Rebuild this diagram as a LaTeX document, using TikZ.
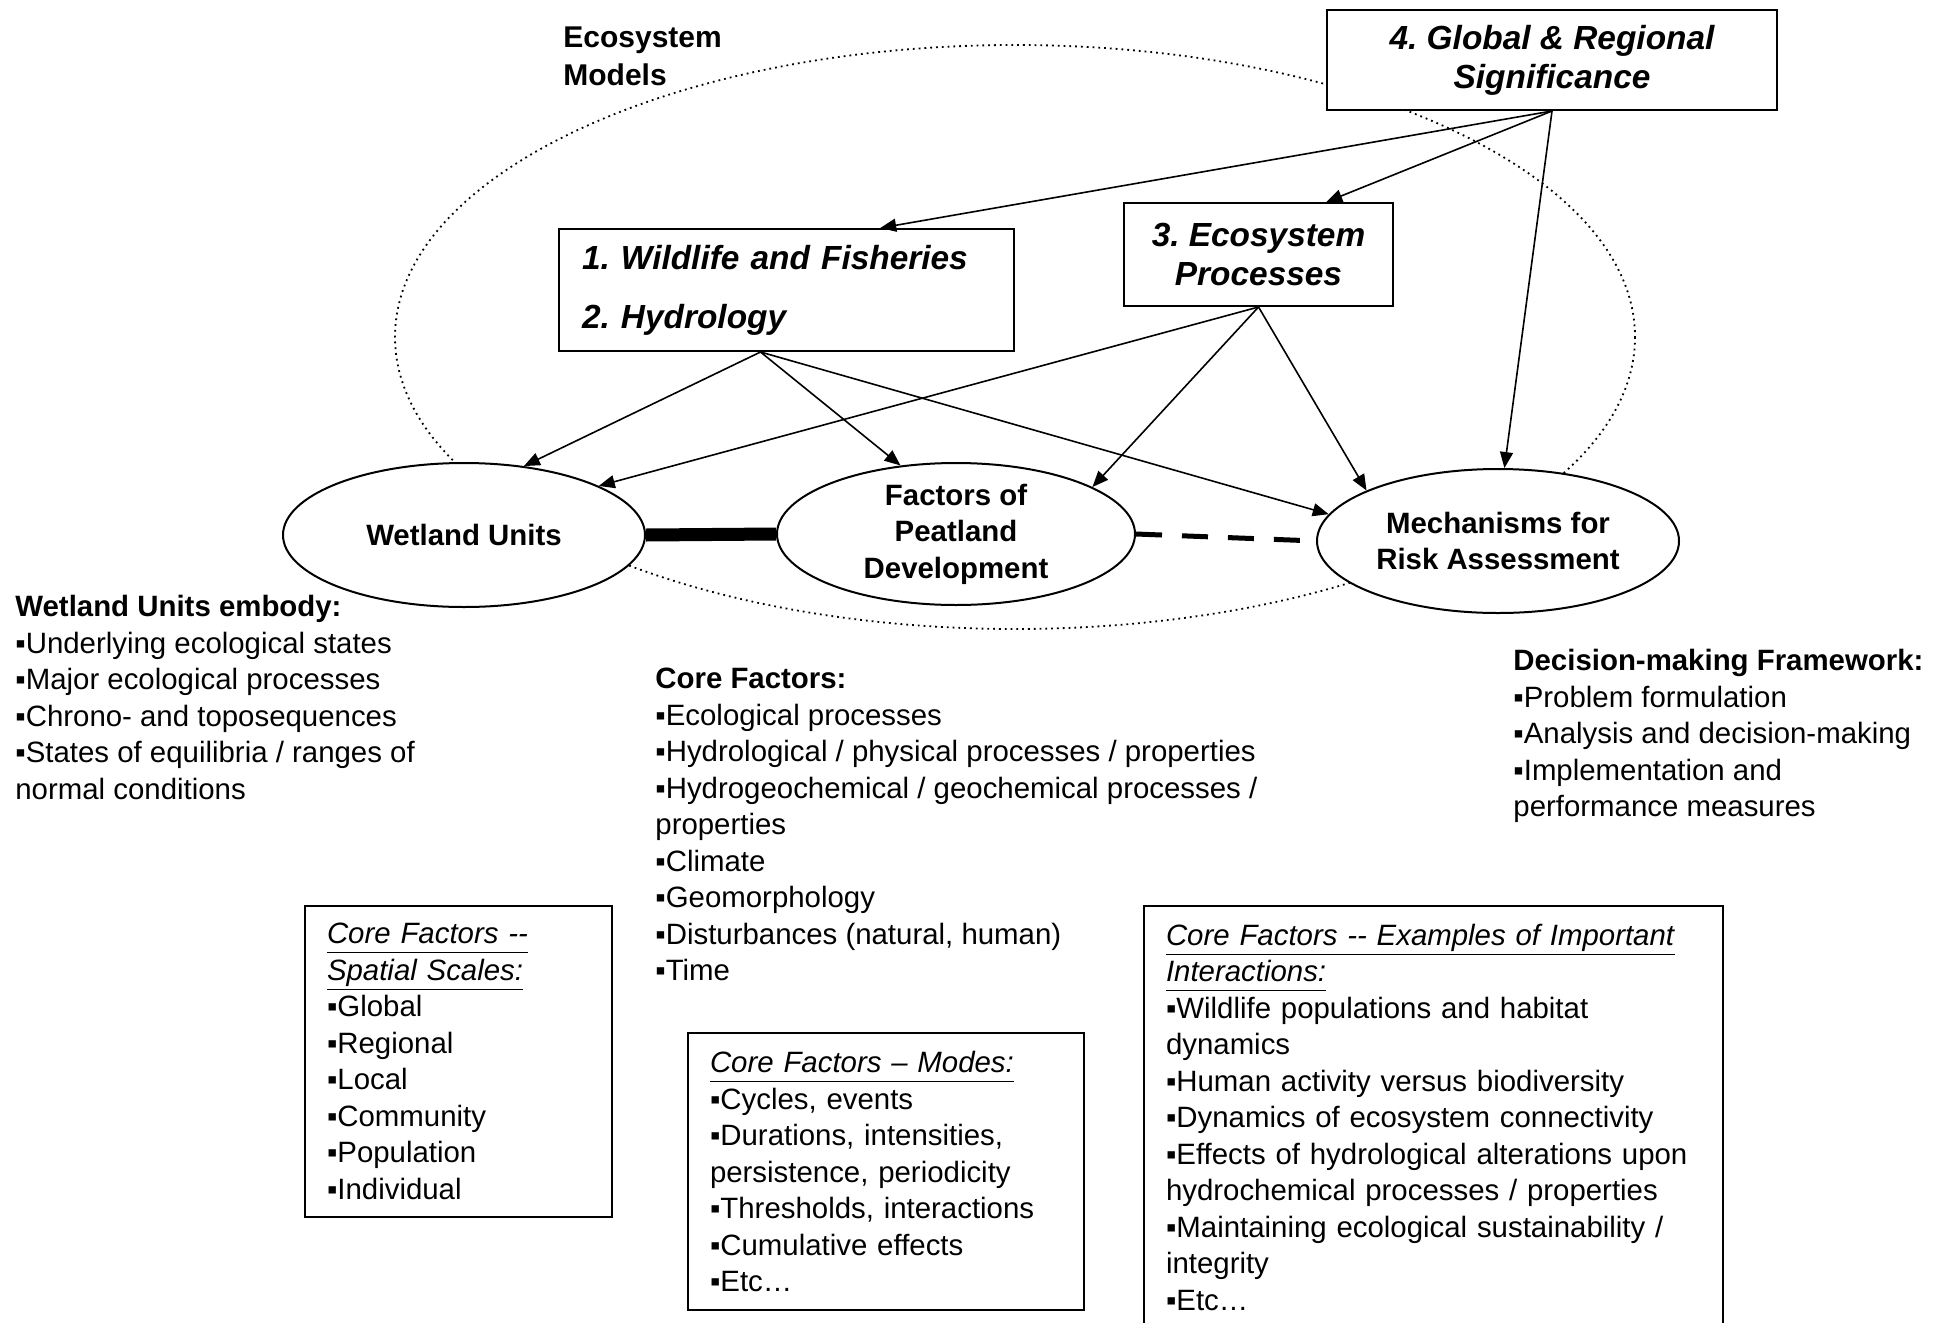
\documentclass[tikz,border=0pt]{standalone}
\usepackage{fontspec}
\setmainfont{Liberation Sans}
\usetikzlibrary{arrows.meta, positioning, shapes.geometric, calc}
\newcommand{\uhead}[1]{\underline{\textit{#1}\vphantom{p}}}
\frenchspacing

\begin{document}
\begin{tikzpicture}[
  x=0.5pt, y=-0.5pt,
  sigbox/.style={rectangle, draw, line width=1pt, fill=white, inner sep=0pt,
               font=\fontsize{16.7}{19.5}\selectfont\bfseries\itshape},
  unit/.style={ellipse, draw, line width=1pt, fill=white, inner sep=0pt, align=center,
               minimum width=181pt, minimum height=72pt, font=\fontsize{14.7}{18.25}\selectfont\bfseries},
  notes/.style={anchor=north west, inner sep=0pt, align=left, font=\fontsize{14.7}{18.25}\selectfont},
  notebox/.style={notes, draw, line width=1pt, inner xsep=11pt},
  arrow/.style={-{Triangle[length=8pt, width=6.5pt]}, line width=0.8pt}
]
\path[use as bounding box, clip] (0,0) rectangle (1952,1322);
\fill[white] (0,0) rectangle (1952,1322);
% ecosystem models
\draw[dotted, line width=0.9pt] (1015,337) ellipse [x radius=620, y radius=292];
\node[notes, font=\fontsize{15}{19}\selectfont\bfseries] (eco) at (563,26) {Ecosystem\\Models};
\node[sigbox, minimum width=225pt, minimum height=50pt, align=center] (gr) at (1552,60) {4. Global \& Regional\\Significance};
\node[sigbox, anchor=north west, minimum width=227.5pt, minimum height=61pt, text width=204.5pt,
      inner xsep=11.5pt, align=left] (wf) at (558,228) {1. Wildlife and Fisheries\\[10pt]2. Hydrology};
\node[sigbox, minimum width=134.5pt, minimum height=51.5pt, align=center] (ep) at (1258.5,254.5) {3. Ecosystem\\Processes};
% the three units
\node[unit] (wl) at (464,535) {Wetland Units};
\node[unit, minimum width=179pt, minimum height=70pt] (fp) at (956,534) {Factors of\\Peatland\\Development};
\node[unit] (mr) at (1498,541) {Mechanisms for\\Risk Assessment};
\draw[line width=6.5pt] (wl.east) -- (fp.west);
\draw[line width=2.5pt, dash pattern=on 13pt off 10pt] (fp.east) -- (mr.west);
% notes
\node[notes] (wlnote) at (15,595) {\textbf{Wetland Units embody:}\\▪Underlying ecological states\\▪Major ecological processes\\▪Chrono- and toposequences\\▪States of equilibria / ranges of\\normal conditions};
\node[notes] (cfnote) at (655,668) {\textbf{Core Factors:}\\▪Ecological processes\\▪Hydrological / physical processes / properties\\▪Hydrogeochemical / geochemical processes /\\properties\\▪Climate\\▪Geomorphology\\▪Disturbances (natural, human)\\▪Time};
\node[notes] (dmnote) at (1513,649) {\textbf{Decision-making Framework:}\\▪Problem formulation\\▪Analysis and decision-making\\▪Implementation and\\performance measures};
\node[notebox, text width=131.5pt, minimum height=155.5pt] (scales) at (304,905) {\uhead{Core Factors -\kern0pt-}\\\uhead{Spatial Scales:}\\▪Global\\▪Regional\\▪Local\\▪Community\\▪Population\\▪Individual};
\node[notebox, text width=176pt, minimum height=138.5pt] (modes) at (687,1032) {\uhead{Core Factors – Modes:}\\▪Cycles, events\\▪Durations, intensities,\\persistence, periodicity\\▪Thresholds, interactions\\▪Cumulative effects\\▪Etc…};
\node[notebox, text width=267.5pt, inner ysep=9pt] (inter) at (1143,905) {\uhead{Core Factors -\kern0pt- Examples of Important}\\\uhead{Interactions:}\\▪Wildlife populations and habitat\\dynamics\\▪Human activity versus biodiversity\\▪Dynamics of ecosystem connectivity\\▪Effects of hydrological alterations upon\\hydrochemical processes / properties\\▪Maintaining ecological sustainability /\\integrity\\▪Etc…};
% arrows
\coordinate (wfout) at ($(wf.south)+(-26,0)$);
\draw[arrow] (gr.south) -- ($(wf.north west)!0.705!(wf.north east)$);
\draw[arrow] (gr.south) -- ($(ep.north west)!0.75!(ep.north east)$);
\draw[arrow] (gr.south) -- (mr.85);
\draw[arrow] (wfout) -- (wl.49);
\draw[arrow] (wfout) -- (fp.129);
\draw[arrow] (wfout) -- (mr.171);
\draw[arrow] (ep.south) -- (wl.20);
\draw[arrow] (ep.south) -- (fp.19);
\draw[arrow] (ep.south) -- (mr.159);
\end{tikzpicture}
\end{document}
